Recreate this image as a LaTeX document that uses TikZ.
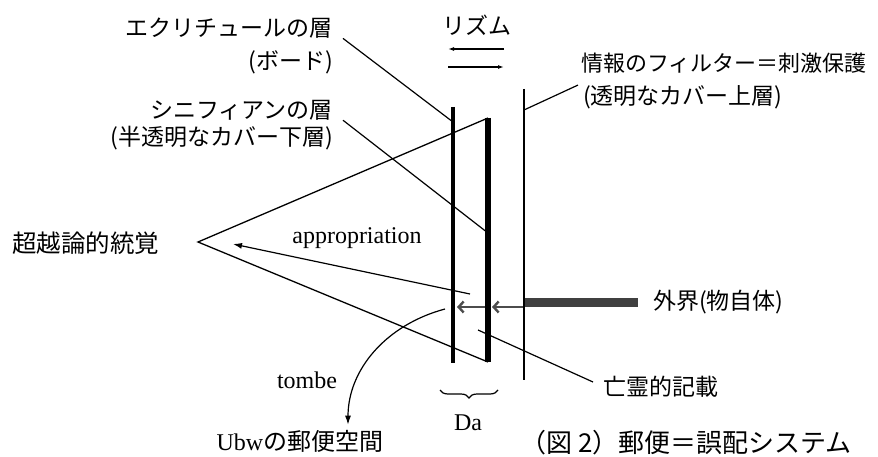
\documentclass[tikz,border=0pt]{standalone}
\usepackage{fontspec}
\setmainfont{Liberation Serif}
\newfontfamily\jp{Noto Sans CJK JP}
\usetikzlibrary{arrows.meta,decorations.pathreplacing}
\tikzset{jtext/.style={inner sep=0pt, font=\jp\fontsize{23}{27}\selectfont},
  ltext/.style={inner sep=0pt, font=\fontsize{24}{28}\selectfont},
  leader/.style={line width=1.2pt},
  sheet/.style={line width=#1},
  flow/.style={line width=2.4pt, black!70, -{Straight Barb[length=5pt,width=11pt]}}}

\begin{document}
\begin{tikzpicture}[x=1pt, y=-1pt]
  \useasboundingbox (0,0) rectangle (878,457);
  \coordinate (e1) at (453,107); \coordinate (e2) at (453,363); \coordinate (s1) at (488,118); \coordinate (s2) at (488,362); \coordinate (f1) at (524,89); \coordinate (f2) at (524,380);
  \coordinate (apex) at (198,242); \coordinate (ehit) at (453,122); \coordinate (shit) at (488,233); \coordinate (fhit) at (524,110);
  \coordinate (ghost) at (478,330); \coordinate (grab) at (470,294); \coordinate (grabtip) at (233,244); \coordinate (fall) at (445,309);
  \coordinate (ein) at (453,307); \coordinate (sin) at (488,307); \coordinate (fin) at (524,307); \coordinate (fbar) at (524,302);
  \coordinate (bl) at (440,390); \coordinate (br) at (498,390);
  % labels
  \node[jtext, anchor=east] (ecri) at (333,28) {エクリチュールの層};
  \node[jtext, anchor=east] (board) at (333,62) {(ボード)};
  \node[jtext, anchor=east] (sig) at (333,110) {シニフィアンの層};
  \node[jtext, anchor=east] (sigcov) at (333,138) {(半透明なカバー下層)};
  \node[jtext, anchor=west, font=\jp\fontsize{22}{26}\selectfont] (filt) at (581,63) {情報のフィルター＝刺激保護};
  \node[jtext, anchor=west] (filtcov) at (583,97) {(透明なカバー上層)};
  \node[jtext, anchor=west] (world) at (653,302) {外界(物自体)};
  \node[jtext, anchor=west] (spec) at (603,387) {亡霊的記載};
  \node[jtext, anchor=west, font=\jp\fontsize{24.5}{28}\selectfont] (apper) at (12,243) {超越論的統覚};
  \node[jtext] (rhythm) at (477,25) {リズム};
  \node[ltext] (appr) at (357,238) {appropriation};
  \node[ltext] (tombe) at (307,380) {tombe};
  \node[ltext] (da) at (468,423) {Da};
  \node[ltext] (ubw) at (300,441) {Ubw{\jp の郵便空間}};
  \node[jtext, anchor=west, font=\jp\fontsize{26}{30}\selectfont] (fig) at (520,443) {（図 2）郵便＝誤配システム};
  % lines
  \draw[line width=1.3pt] (s1) -- (apex) -- (s2);
  \draw[leader] ([xshift=10pt]ecri.south east) -- (ehit);
  \draw[leader] ([xshift=10pt]sig.south east) -- (shit);
  \draw[leader] (fhit) -- ([xshift=-5pt]filtcov.north west);
  \draw[leader] (ghost) -- ([shift={(-10,-5)}]spec.west);
  \draw[leader, -{Latex[length=9pt,width=6pt]}] (grab) -- (grabtip);
  \draw[leader, -{Latex[length=9pt,width=6pt]}, shorten >=5pt] (fall) to[out=195, in=90] ([xshift=48pt]ubw.north);
  \draw[leader, -{Latex[length=6pt,width=4pt]}] ([shift={(27,24)}]rhythm.center) -- ([shift={(-29,24)}]rhythm.center);
  \draw[leader, -{Latex[length=6pt,width=4pt]}] ([shift={(-29,42)}]rhythm.center) -- ([shift={(27,42)}]rhythm.center);
  \draw[leader, decorate, decoration={brace, mirror, amplitude=8pt}] (bl) -- (br);
  % outer world
  \draw[line width=9pt, black!75] (fbar) -- ([xshift=-15pt]world.west);
  \draw[flow, shorten >=4pt] (fin) -- (sin);
  \draw[flow, shorten >=4pt] (sin) -- (ein);
  % sheets
  \draw[sheet=4pt] (e1) -- (e2);
  \draw[sheet=5.5pt] (s1) -- (s2);
  \draw[sheet=2.6pt] (f1) -- (f2);
\end{tikzpicture}
\end{document}
